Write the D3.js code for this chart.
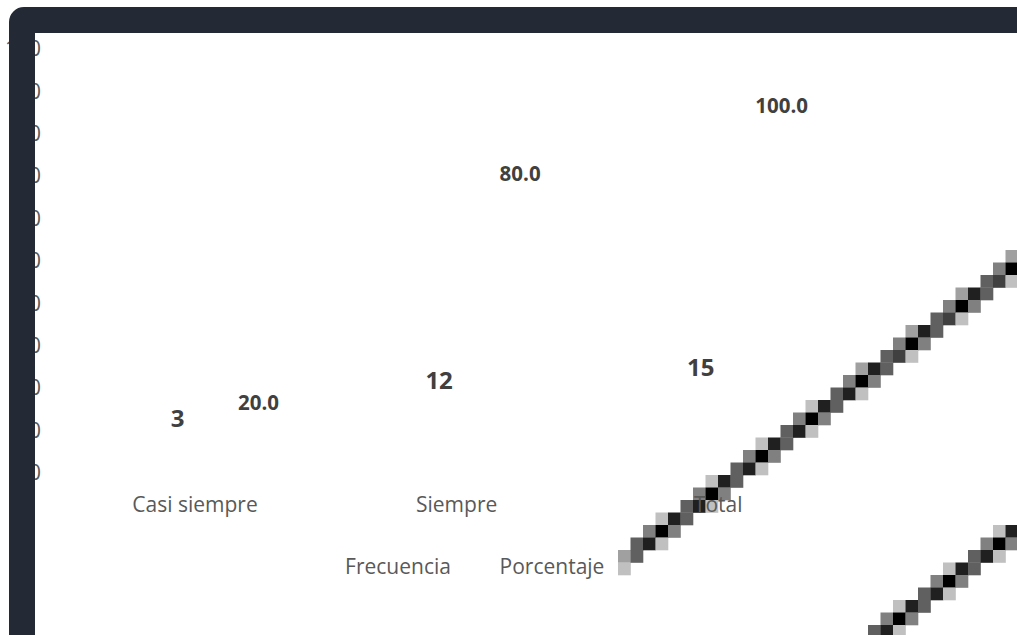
<!DOCTYPE html>
<html><head><meta charset="utf-8">
<script src="https://cdn.jsdelivr.net/npm/d3@7"></script>
<style>html,body{margin:0;padding:0;background:#fff;overflow:hidden}</style>
</head><body>
<svg id="chart" width="1017" height="635"></svg>
<script>
const categories = ["Casi siempre", "Siempre", "Total"];
const seriesNames = ["Frecuencia", "Porcentaje"];
const frecuencia = [3, 12, 15];
const porcentaje = [20.0, 80.0, 100.0];
const yTicks = [0, 10, 20, 30, 40, 50, 60, 70, 80, 90, 100];

const svg = d3.select("#chart");
const font = "'Open Sans', sans-serif";
svg.append("rect").attr("width", 1017).attr("height", 635).attr("fill", "#ffffff");

// scales
const x = d3.scaleBand().domain(categories).range([64.25, 849]).padding(0);
const xs = d3.scaleBand().domain(seriesNames).range([-58, 104]).padding(0);
const yAxisScale = d3.scaleLinear().domain([0, 100]).range([473, 49]);
const yFreq = d3.scaleLinear().domain([0, 15]).range([439.7, 376]);
const yPct = d3.scaleLinear().domain([20, 80, 100]).range([410, 181, 113]);

// y axis tick labels
const yAxis = d3.axisLeft(yAxisScale).tickValues(yTicks).tickSize(0).tickPadding(0);
const gy = svg.append("g").attr("transform", "translate(41,0)").call(yAxis);
gy.select(".domain").remove();
gy.selectAll("text").attr("font-family", font).attr("font-size", 21).attr("fill", "#595959");

// bars (white, invisible as in the reference)
const bars = svg.append("g");
categories.forEach((c, i) => {
  const cx = x(c) + x.bandwidth() / 2;
  bars.append("rect").attr("x", cx + xs("Frecuencia") + 10).attr("width", xs.bandwidth() - 20)
    .attr("y", yFreq(frecuencia[i])).attr("height", yFreq(0) - yFreq(frecuencia[i])).attr("fill", "#ffffff");
});

// diagonal pixel artefacts
const cell = 12.5, ox = 5.5, oy = 0;
function pixelLine(x0, y0, slope, xmin, xmax) {
  const g = svg.append("g");
  const nrm = Math.sqrt(1 + slope * slope);
  for (let gx = ox - cell; gx < 1017; gx += cell) {
    for (let gyy = oy - cell; gyy < 635; gyy += cell) {
      const cx = gx + cell / 2, cy = gyy + cell / 2;
      if (cx < xmin || cx > xmax) continue;
      const d = Math.abs((cy - y0) - slope * (cx - x0)) / nrm / cell;
      let cov = 1 - d;
      if (cx < xmin + cell * 1.5) cov *= 0.35;
      if (cov <= 0.08) continue;
      const lvl = Math.round((1 - cov) * 7);
      const v = Math.min(224, lvl * 32);
      g.append("rect").attr("x", gx).attr("y", gyy).attr("width", cell + 0.3).attr("height", cell + 0.3)
        .attr("fill", d3.rgb(v, v, v));
    }
  }
}
pixelLine(1011.25, 268.75, -0.751, 617, 1030);
pixelLine(999.25, 543.75, -0.75, 850, 1030);

// category labels
svg.append("g").selectAll("text").data(categories).join("text")
  .attr("x", d => x(d) + x.bandwidth() / 2).attr("y", 512)
  .attr("text-anchor", "middle").attr("font-family", font).attr("font-size", 21)
  .attr("fill", "#595959").text(d => d);

// data labels
const lbl = svg.append("g").attr("font-family", font)
  .attr("font-weight", "bold").attr("fill", "#404040").attr("text-anchor", "middle");
categories.forEach((c, i) => {
  const cx = x(c) + x.bandwidth() / 2;
  lbl.append("text").attr("x", cx + xs("Frecuencia") + xs.bandwidth() / 2).attr("font-size", 24)
    .attr("y", yFreq(frecuencia[i])).text(frecuencia[i]);
  lbl.append("text").attr("x", cx + xs("Porcentaje") + xs.bandwidth() / 2).attr("font-size", 20.5)
    .attr("y", yPct(porcentaje[i])).text(porcentaje[i].toFixed(1));
});

// legend
const legendX = d3.scalePoint().domain(seriesNames).range([398, 552]);
svg.append("g").selectAll("text").data(seriesNames).join("text")
  .attr("x", d => legendX(d)).attr("y", 574).attr("text-anchor", "middle")
  .attr("font-family", font).attr("font-size", 21).attr("fill", "#595959").text(d => d);

// dark frame
svg.append("path")
  .attr("d", "M9,640 V22 A15,15 0 0 1 24,7 H1030 V33 H35 V640 Z")
  .attr("fill", "#232a35");
</script>
</body></html>
